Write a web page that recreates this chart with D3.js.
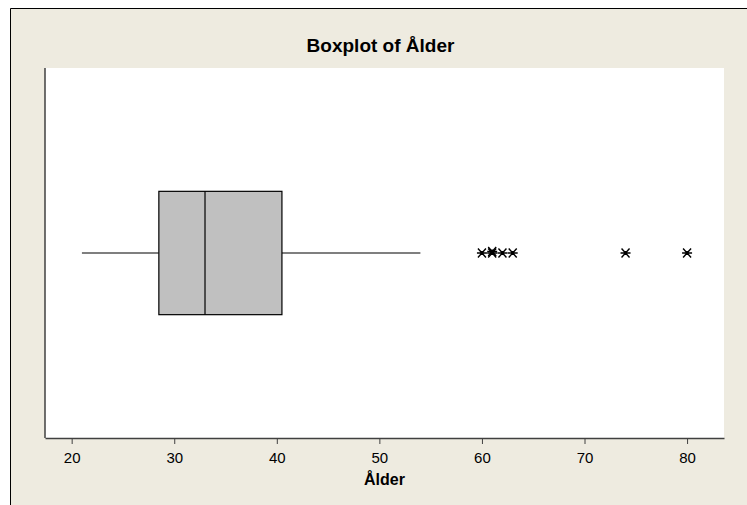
<!DOCTYPE html>
<html>
<head>
<meta charset="utf-8">
<script src="https://cdn.jsdelivr.net/npm/d3@7"></script>
<style>
  body { margin: 0; background: #fff; }
  text { font-family: "Liberation Sans", Arial, sans-serif; }
</style>
</head>
<body>
<svg id="chart" width="747" height="505"></svg>
<script>
// boxplot summary
const variable = 'Ålder';
const boxStats = [28.5, 33, 40.5];       // q1, median, q3
const whiskers = [21, 54];               // low, high
const outliers = [60, 61, 61, 62, 63, 74, 80];
const tickValues = [20, 30, 40, 50, 60, 70, 80];
const xDomain = [17.4, 83.6];

const svg = d3.select('#chart');
const W = 747, H = 505;
const plot = { left: 45, right: 724, top: 68, bottom: 438 };

// figure background, only top and left edge of the frame show
svg.append('rect')
  .attr('x', 10).attr('y', 8)
  .attr('width', W - 10).attr('height', H - 8)
  .attr('fill', '#eeebe0');
svg.append('path')
  .attr('d', `M10.5,${H}V8.5H${W}`)
  .attr('fill', 'none')
  .attr('stroke', '#000')
  .attr('stroke-width', 1);

// data region
svg.append('rect')
  .attr('x', plot.left).attr('y', plot.top)
  .attr('width', plot.right - plot.left)
  .attr('height', plot.bottom - plot.top)
  .attr('fill', '#fff');

const x = d3.scaleLinear().domain(xDomain).range([plot.left, plot.right]);
const y = d3.scaleBand().domain([variable])
  .range([plot.top, plot.bottom])
  .paddingInner(0).paddingOuter(1);

const yMid = y(variable) + y.bandwidth() / 2;

// whiskers
const g = svg.append('g');
g.selectAll('line.whisker')
  .data([[whiskers[0], boxStats[0]], [boxStats[2], whiskers[1]]])
  .join('line')
  .attr('class', 'whisker')
  .attr('x1', d => x(d[0])).attr('x2', d => x(d[1]))
  .attr('y1', yMid).attr('y2', yMid)
  .attr('stroke', '#000').attr('stroke-width', 1.2);

// box
g.append('rect')
  .attr('x', x(boxStats[0]))
  .attr('y', y(variable))
  .attr('width', x(boxStats[2]) - x(boxStats[0]))
  .attr('height', y.bandwidth())
  .attr('fill', '#c0c0c0')
  .attr('stroke', '#000')
  .attr('stroke-width', 1.2);

// median
g.append('line')
  .attr('x1', x(boxStats[1])).attr('x2', x(boxStats[1]))
  .attr('y1', y(variable)).attr('y2', y(variable) + y.bandwidth())
  .attr('stroke', '#000').attr('stroke-width', 1.2);

// outliers as asterisks, repeats nudged a touch so they look heavier
const seen = {};
const star = 'M-5,0H5M-4,-4.5L4,4.5M-4,4.5L4,-4.5M0,-2V2';
g.selectAll('path.out')
  .data(outliers)
  .join('path')
  .attr('class', 'out')
  .attr('d', star)
  .attr('transform', d => {
    const k = seen[d] = (seen[d] || 0) + 1;
    return `translate(${x(d)},${yMid - (k - 1) * 1.5})`;
  })
  .attr('fill', 'none')
  .attr('stroke', '#000')
  .attr('stroke-width', 1.4);

// axes
const xAxis = d3.axisBottom(x)
  .tickValues(tickValues)
  .tickSize(6)
  .tickSizeOuter(0)
  .tickPadding(8);

const ax = svg.append('g')
  .attr('transform', `translate(0,${plot.bottom})`)
  .call(xAxis);
ax.select('.domain').attr('stroke', '#404040').attr('stroke-width', 1.5);
ax.selectAll('.tick line').attr('stroke', '#404040');
ax.selectAll('.tick text')
  .attr('fill', '#000')
  .style('font-size', '15px')
  .style('font-family', '"Liberation Sans", Arial, sans-serif');

svg.append('line')
  .attr('x1', plot.left).attr('x2', plot.left)
  .attr('y1', plot.top).attr('y2', plot.bottom)
  .attr('stroke', '#404040').attr('stroke-width', 1.5);

// titles
svg.append('text')
  .attr('x', (plot.left + plot.right) / 2 - 4)
  .attr('y', 52)
  .attr('text-anchor', 'middle')
  .style('font-size', '19px')
  .style('font-weight', 'bold')
  .text('Boxplot of ' + variable);

svg.append('text')
  .attr('x', (plot.left + plot.right) / 2)
  .attr('y', 485)
  .attr('text-anchor', 'middle')
  .style('font-size', '16px')
  .style('font-weight', 'bold')
  .text(variable);
</script>
</body>
</html>
